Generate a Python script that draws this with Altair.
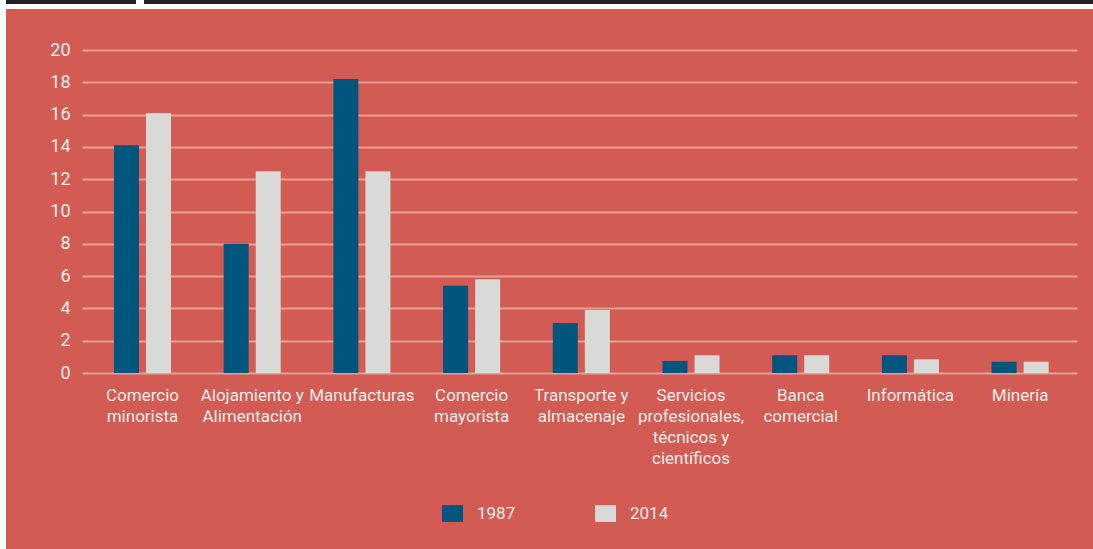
import altair as alt
import pandas as pd

categories = [
    "Comercio\nminorista",
    "Alojamiento y\nAlimentación",
    "Manufacturas",
    "Comercio\nmayorista",
    "Transporte y\nalmacenaje",
    "Servicios\nprofesionales,\ntécnicos y\ncientíficos",
    "Banca\ncomercial",
    "Informática",
    "Minería",
]
values_1987 = [14.1, 8.0, 18.2, 5.4, 3.1, 0.75, 1.1, 1.1, 0.7]
values_2014 = [16.1, 12.5, 12.5, 5.8, 3.9, 1.1, 1.1, 0.85, 0.7]
years = ["1987", "2014"]
y_ticks = list(range(0, 21, 2))

rows = []
for c, a, b in zip(categories, values_1987, values_2014):
    rows.append({"cat": c, "year": years[0], "value": a})
    rows.append({"cat": c, "year": years[1], "value": b})
df = pd.DataFrame(rows)

FONT = "Roboto"
FS = 17
TXT = "#FBEDEA"
RED = "#D25B53"

one = pd.DataFrame({"k": [0]})
# white strips framing the red panel, and the dark top bar (pixel positions, plot origin at 82,50)
white_top = alt.Chart(one).mark_rect(color="white").encode(
    x=alt.value(-82), x2=alt.value(1011), y=alt.value(-50), y2=alt.value(-41)
)
white_left = alt.Chart(one).mark_rect(color="white").encode(
    x=alt.value(-82), x2=alt.value(-76), y=alt.value(-50), y2=alt.value(499)
)
topbar1 = alt.Chart(one).mark_rect(color="#222222").encode(
    x=alt.value(-76), x2=alt.value(54), y=alt.value(-50), y2=alt.value(-46)
)
topbar2 = alt.Chart(one).mark_rect(color="#222222").encode(
    x=alt.value(62), x2=alt.value(1011), y=alt.value(-50), y2=alt.value(-46)
)

bars = alt.Chart(df).mark_bar().encode(
    x=alt.X(
        "cat:N",
        sort=categories,
        scale=alt.Scale(paddingInner=0.48, paddingOuter=0.275, align=0.53),
        axis=alt.Axis(
            title=None,
            labelAngle=0,
            labelExpr="split(datum.label, '\\n')",
            labelFont=FONT,
            labelFontSize=FS,
            labelLineHeight=21,
            labelColor=TXT,
            labelPadding=14,
            labelBaseline="top",
            domain=False,
            ticks=False,
            grid=False,
        ),
    ),
    xOffset=alt.XOffset("year:N", scale=alt.Scale(paddingInner=0.22)),
    y=alt.Y(
        "value:Q",
        scale=alt.Scale(domain=[0, 20], nice=False),
        axis=alt.Axis(
            title=None,
            values=y_ticks,
            labelFont=FONT,
            labelFontSize=18,
            labelColor=TXT,
            labelPadding=12,
            domain=False,
            ticks=False,
            grid=True,
            gridColor="#E8A096",
            gridWidth=2,
            gridOpacity=1,
        ),
    ),
    color=alt.Color(
        "year:N",
        scale=alt.Scale(domain=years, range=["#02567E", "#D9DAD7"]),
        legend=alt.Legend(
            title=None,
            orient="none",
            direction="horizontal",
            legendX=360,
            legendY=453,
            symbolType="M-1,-0.8H1V0.8H-1Z",
            symbolSize=441,
            symbolStrokeWidth=0,
            symbolOpacity=1,
            labelFont=FONT,
            labelFontSize=FS,
            labelColor=TXT,
            labelOffset=14,
            columnPadding=79,
        ),
    ),
)

chart = alt.layer(bars, white_top, white_left, topbar1, topbar2).properties(
    width=995,
    height=323,
    autosize=alt.AutoSizeParams(type="none"),
    padding={"left": 82, "top": 50, "right": 16, "bottom": 176},
    background=RED,
).configure_view(stroke=None)

chart.save("out.html", embed_options={"renderer": "svg", "actions": False})
